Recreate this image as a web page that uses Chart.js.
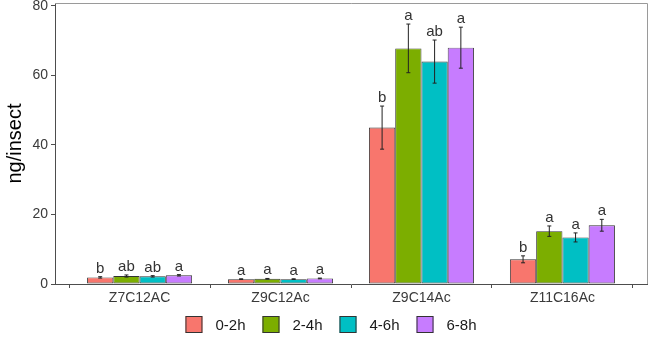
<!DOCTYPE html>
<html><head><meta charset="utf-8">
<script src="https://cdn.jsdelivr.net/npm/chart.js@4/dist/chart.umd.min.js"></script>
<style>html,body{margin:0;padding:0;background:#fff}canvas{display:block}</style>
</head><body>
<canvas id="c" width="649" height="337"></canvas>
<script>
const categories = ['Z7C12AC','Z9C12Ac','Z9C14Ac','Z11C16Ac'];
const seriesNames = ['0-2h','2-4h','4-6h','6-8h'];
const mean_0_2h = [1.9, 1.4, 45.0, 7.1];
const mean_2_4h = [2.3, 1.5, 67.8, 15.2];
const mean_4_6h = [2.2, 1.4, 64.0, 13.4];
const mean_6_8h = [2.5, 1.6, 68.0, 16.9];
const se_0_2h = [0.2, 0.1, 6.2, 1.0];
const se_2_4h = [0.3, 0.1, 7.0, 1.5];
const se_4_6h = [0.2, 0.1, 6.2, 1.3];
const se_6_8h = [0.2, 0.1, 5.9, 1.7];
const letters_0_2h = ['b','a','b','b'];
const letters_2_4h = ['ab','a','a','a'];
const letters_4_6h = ['ab','a','ab','a'];
const letters_6_8h = ['a','a','a','a'];
const yTicks = [0, 20, 40, 60, 80];

const means = [mean_0_2h, mean_2_4h, mean_4_6h, mean_6_8h];
const ses = [se_0_2h, se_2_4h, se_4_6h, se_6_8h];
const letters = [letters_0_2h, letters_2_4h, letters_4_6h, letters_6_8h];
const colors = ['#F8766D', '#7CAE00', '#00BFC4', '#C77CFF'];
const FONT = "'Liberation Sans', Arial, sans-serif";

const datasets = seriesNames.map((name, s) => ({
  label: name,
  data: categories.map((c, i) => ({x: i + 1, y: means[s][i]})),
  backgroundColor: colors[s],
  borderColor: '#333333',
  borderWidth: 0.9,
  borderSkipped: false,
  categoryPercentage: 0.745,
  barPercentage: 1
}));

const errorPlugin = {
  id: 'errors',
  afterDatasetsDraw(chart) {
    const ctx = chart.ctx, y = chart.scales.y;
    ctx.save();
    chart.data.datasets.forEach((ds, s) => {
      const meta = chart.getDatasetMeta(s);
      meta.data.forEach((bar, i) => {
        const m = means[s][i], e = ses[s][i];
        const yt = y.getPixelForValue(m + e), yb = y.getPixelForValue(m - e);
        ctx.strokeStyle = '#222';
        ctx.lineWidth = 1;
        ctx.beginPath();
        ctx.moveTo(bar.x, yt); ctx.lineTo(bar.x, yb);
        ctx.moveTo(bar.x - 2, yt); ctx.lineTo(bar.x + 2, yt);
        ctx.moveTo(bar.x - 2, yb); ctx.lineTo(bar.x + 2, yb);
        ctx.stroke();
        ctx.fillStyle = '#333';
        ctx.font = '15px ' + FONT;
        ctx.textAlign = 'center';
        ctx.textBaseline = 'alphabetic';
        ctx.fillText(letters[s][i], bar.x, yt - 4);
      });
    });
    ctx.restore();
  }
};

const framePlugin = {
  id: 'frame',
  afterDraw(chart) {
    const ctx = chart.ctx, a = chart.chartArea;
    ctx.save();
    ctx.strokeStyle = '#9a9a9a';
    ctx.lineWidth = 1;
    ctx.beginPath();
    ctx.moveTo(a.left, a.top + 0.5); ctx.lineTo(a.right + 0.5, a.top + 0.5);
    ctx.lineTo(a.right + 0.5, a.bottom);
    ctx.stroke();
    // legend
    ctx.font = '15px ' + FONT;
    const box = 17, gapText = 13, gapItem = 17;
    const widths = seriesNames.map(n => box + gapText + ctx.measureText(n).width);
    const total = widths.reduce((p, q) => p + q, 0) + gapItem * (widths.length - 1);
    let x = 331 - total / 2;
    const top = 316;
    seriesNames.forEach((n, s) => {
      ctx.fillStyle = colors[s];
      ctx.fillRect(x, top, box, box);
      ctx.strokeStyle = '#333';
      ctx.lineWidth = 1;
      ctx.strokeRect(x + 0.5, top + 0.5, box - 1, box - 1);
      ctx.fillStyle = '#1a1a1a';
      ctx.textAlign = 'left';
      ctx.textBaseline = 'middle';
      ctx.fillText(n, x + box + gapText, top + box / 2 + 1);
      x += widths[s] + gapItem;
    });
    ctx.restore();
  }
};

new Chart(document.getElementById('c'), {
  type: 'bar',
  data: {datasets},
  options: {
    responsive: false,
    animation: false,
    devicePixelRatio: 1,
    layout: {padding: {top: 3, right: 2, bottom: 33, left: 0}},
    plugins: {legend: {display: false}, tooltip: {enabled: false}},
    scales: {
      x: {
        type: 'linear', min: 0.4, max: 4.6, offset: false,
        afterBuildTicks: s => { s.ticks = categories.map((c, i) => ({value: i + 1})); },
        ticks: {
          callback: v => categories[Math.round(v) - 1],
          autoSkip: false, maxRotation: 0, padding: 2,
          font: {size: 14, family: FONT}, color: '#3a3a3a'
        },
        grid: {display: true, drawOnChartArea: false, drawTicks: true, tickLength: 4, tickColor: '#4d4d4d'},
        border: {display: true, color: '#4d4d4d', width: 1},
        afterFit: s => { s.height = 20; s.paddingLeft = 0; s.paddingRight = 0; }
      },
      y: {
        min: 0, max: 80.86,
        afterBuildTicks: s => { s.ticks = yTicks.map(v => ({value: v})); },
        ticks: {padding: 3, font: {size: 14, family: FONT}, color: '#3a3a3a'},
        grid: {display: true, drawOnChartArea: false, drawTicks: true, tickLength: 4, tickColor: '#4d4d4d'},
        border: {display: true, color: '#4d4d4d', width: 1},
        title: {display: true, text: 'ng/insect', font: {size: 20, family: FONT}, color: '#000', padding: {top: 3, bottom: 0}},
        afterFit: s => { s.width = 55; s.paddingTop = 0; s.paddingBottom = 0; }
      }
    }
  },
  plugins: [errorPlugin, framePlugin]
});
</script>
</body></html>
